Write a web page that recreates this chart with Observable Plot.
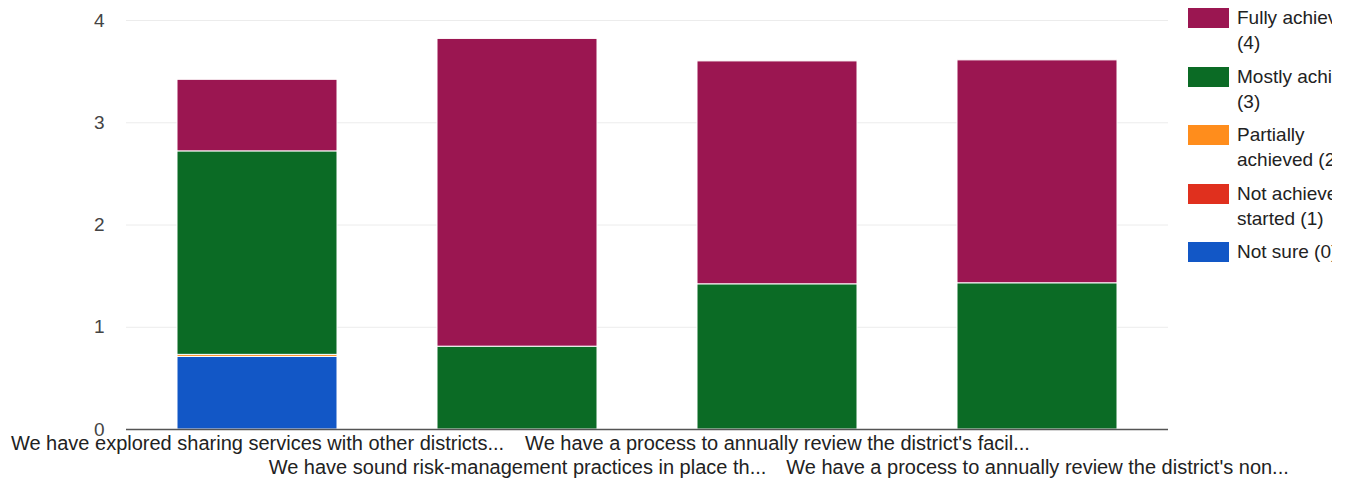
<!DOCTYPE html>
<html>
<head>
<meta charset="utf-8">
<script src="https://cdn.jsdelivr.net/npm/d3@7"></script>
<script src="https://cdn.jsdelivr.net/npm/@observablehq/plot@0.6"></script>
<style>
  html, body { margin: 0; padding: 0; background: #fff; overflow: hidden; }
  body { width: 1349px; height: 481px; position: relative; font-family: "Liberation Sans", Arial, sans-serif; }
  #chart { position: absolute; left: 0; top: 0; }
  #legend { position: absolute; left: 1188px; top: 8px; width: 144px; overflow: hidden; }
  .item { display: flex; align-items: flex-start; height: 58.5px; }
  .sw { width: 41px; height: 20px; flex: none; margin-right: 8px; }
  .lab { font-size: 19px; line-height: 25px; color: #222; margin-top: -3px; white-space: nowrap; }
</style>
</head>
<body>
<div id="chart"></div>
<div id="legend"></div>
<script>
const categories = [
  "We have explored sharing services with other districts...",
  "We have sound risk-management practices in place th...",
  "We have a process to annually review the district's facil...",
  "We have a process to annually review the district's non..."
];
const seriesNames = ["Fully achieved (4)", "Mostly achieved (3)", "Partially achieved (2)", "Not achieved/not started (1)", "Not sure (0)"];
const legendLabels = [["Fully achieved", "(4)"], ["Mostly achieved", "(3)"], ["Partially", "achieved (2)"], ["Not achieved/not", "started (1)"], ["Not sure (0)"]];
const colors = ["#9b1651", "#0b6b25", "#ff8d1c", "#e0301e", "#1257c6"];
// values per series, in category order
const notSure   = [0.71, 0, 0, 0];
const notAch    = [0, 0, 0, 0];
const partially = [0.02, 0, 0, 0];
const mostly    = [1.99, 0.81, 1.42, 1.43];
const fully     = [0.70, 3.01, 2.18, 2.18];
const yTicks = [0, 1, 2, 3, 4];

const seriesVals = [fully, mostly, partially, notAch, notSure];
const stackOrder = [4, 3, 2, 1, 0]; // bottom to top
const rows = [];
for (const si of stackOrder) {
  categories.forEach((c, ci) => rows.push({cat: c, series: seriesNames[si], value: seriesVals[si][ci]}));
}
const labelRows = categories.map((c, i) => ({cat: c, row: i % 2}));

const chart = Plot.plot({
  width: 1349,
  height: 481,
  marginLeft: 126,
  marginRight: 181,
  marginTop: 20,
  marginBottom: 52,
  style: {fontFamily: "'Liberation Sans', Arial, sans-serif", fontSize: "20px", color: "#444", background: "#fff"},
  x: {domain: categories, paddingInner: 0.385, paddingOuter: 0.19, axis: null},
  y: {domain: [0, 4], ticks: yTicks, label: null},
  color: {domain: seriesNames, range: colors},
  marks: [
    Plot.gridY(yTicks.filter(t => t > 0), {stroke: "#ececec", strokeOpacity: 1}),
    Plot.axisY(yTicks, {tickSize: 0, tickPadding: 22, fontSize: 19, fill: "#444", label: null, tickFormat: "d"}),
    Plot.barY(rows, Plot.stackY({order: null}, {x: "cat", y: "value", fill: "series", stroke: "#fff", strokeWidth: 1})),
    Plot.ruleY([0], {stroke: "#555", strokeWidth: 1.5}),
    Plot.text(labelRows, {x: "cat", y: 0, text: "cat", lineAnchor: "bottom", fill: "#222", filter: d => d.row === 0, dy: 20}),
    Plot.text(labelRows, {x: "cat", y: 0, text: "cat", lineAnchor: "bottom", fill: "#222", filter: d => d.row === 1, dy: 44})
  ]
});
document.getElementById("chart").appendChild(chart);

const legend = document.getElementById("legend");
seriesNames.forEach((name, i) => {
  const item = document.createElement("div");
  item.className = "item";
  const sw = document.createElement("div");
  sw.className = "sw";
  sw.style.background = colors[i];
  const lab = document.createElement("div");
  lab.className = "lab";
  lab.innerHTML = legendLabels[i].join("<br>");
  item.appendChild(sw);
  item.appendChild(lab);
  legend.appendChild(item);
});
</script>
</body>
</html>
